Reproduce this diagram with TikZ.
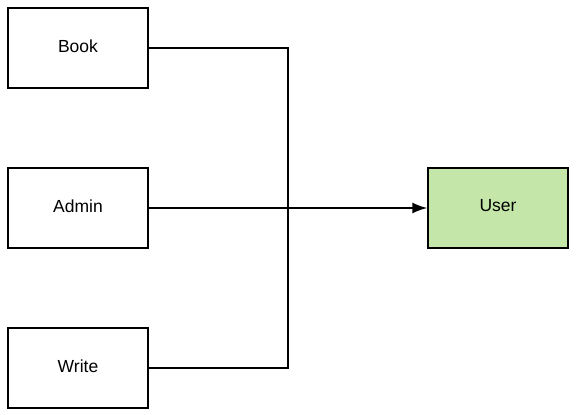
\documentclass[tikz,border=0pt]{standalone}
\usepackage{fontspec}
\setmainfont{Liberation Sans}
\usepackage{xcolor}
\usetikzlibrary{arrows,arrows.meta,positioning}
\definecolor{usergreen}{HTML}{C5E6A9}
\tikzstyle{line} = [draw, line width=1.5pt, -{Latex[length=15pt,width=11pt]}]
\tikzset{
    every node/.style={font=\fontsize{17.5}{20}\selectfont},
    entity/.style={draw, line width=1.5pt, minimum width=140pt, minimum height=80pt, inner sep=0pt},
    tag/.style={draw=none, anchor=center, yshift=2pt}
}
\begin{document}
\begin{tikzpicture}[x=1pt,y=-1pt]
            \useasboundingbox (0,0) rectangle (579,415);

            % Draw the entities
            \node[entity] (book) at (78,48) {};
            \node[entity] (admin) at (78,208) {};
            \node[entity] (write) at (78,368) {};
            \node[entity,fill=usergreen] (user) at (498,208) {};

            % Add the labels
            \node[tag] at (book) {Book};
            \node[tag] at (admin) {Admin};
            \node[tag] at (write) {Write};
            \node[tag] at (user) {User};

            % Draw the junction
            \coordinate (jtop) at (288,48);
            \coordinate (jbot) at (288,368);

            % Draw the connectors
            \draw[line width=1.5pt] (book.east) -- (jtop) -- (jbot) -- (write.east);
            \path[line] (admin.east) -- (user.west);
        \end{tikzpicture}
\end{document}
